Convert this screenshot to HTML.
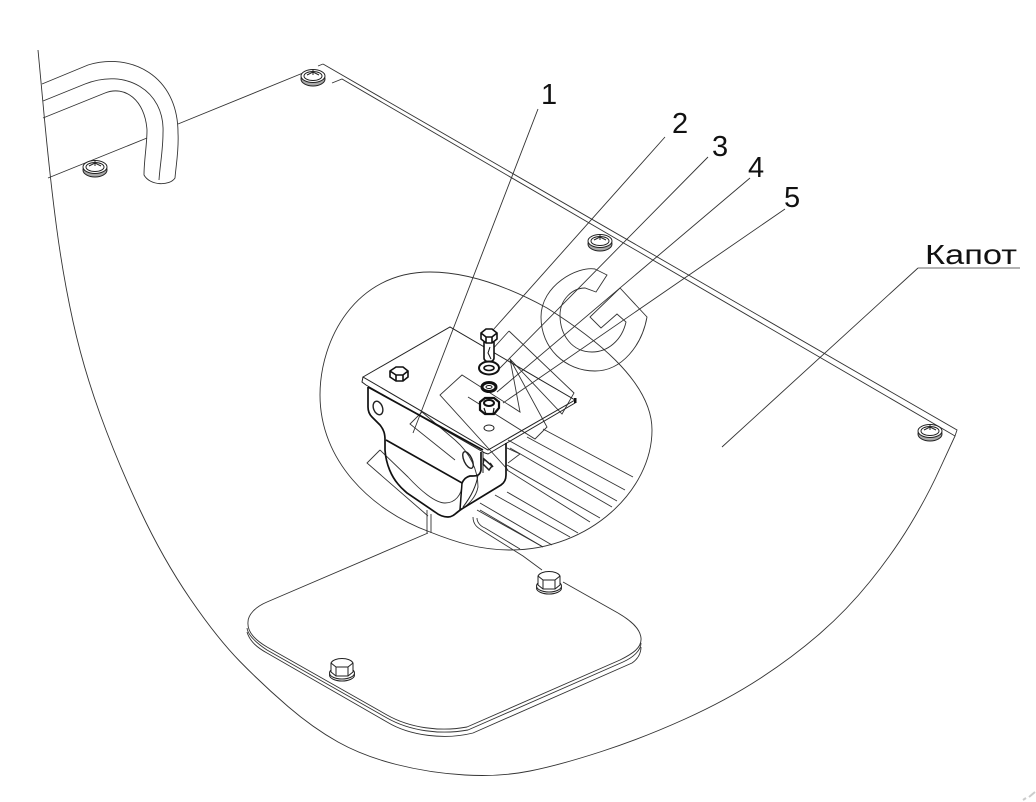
<!DOCTYPE html>
<html><head><meta charset="utf-8"><style>
html,body{margin:0;padding:0;background:#fff}
svg{display:block}
.t{font-family:"Liberation Sans",sans-serif;font-size:29px;fill:#111}
</style></head><body>
<svg width="1036" height="802" viewBox="0 0 1036 802" xmlns="http://www.w3.org/2000/svg">
<defs>
<g id="sc" fill="#fff" stroke="#222" stroke-width="1">
<ellipse cx="0" cy="3" rx="12" ry="7" fill="#aaa"/>
<ellipse cx="0" cy="0" rx="12" ry="6.5"/>
<ellipse cx="0" cy="0" rx="9" ry="4.5"/>
<path d="M-6,-1 L0,-4 L6,-1 M0,-6 V-1" fill="none"/>
</g>
<g id="bt" fill="#fff" stroke="#222" stroke-width="1">
<ellipse cx="0" cy="7" rx="12.5" ry="6"/>
<ellipse cx="0" cy="5" rx="12.5" ry="6"/>
<path d="M-11,-5 C-8,-11 8,-11 11,-5 V4 L6,8 H-6 L-11,4 Z"/>
<path d="M-11,-5 L-6,-1 H6 L11,-5 M-6,-1 V8 M6,-1 V8"/>
</g>
</defs>
<rect width="1036" height="802" fill="#fff"/>
<g fill="none" stroke="#333" stroke-width="0.9">
<!-- hood -->
<path d="M38,50 L44,114 Q50,178 56.5,227 Q63,276 73,321.5 Q83,367 100,414 Q117,461 140,510 Q163,559 190,598.5 Q217,638 240,661.5 Q263,685 288,706.5 Q313,728 338,742 Q363,756 396.5,764.5 Q430,773 465,775 Q500,777 530,771 Q560,765 601.5,751.5 Q643,738 685,719 Q727,700 760,678.5 Q793,657 820,633.5 Q847,610 870,581.5 Q893,553 910,525 Q927,497 940,468.5 L955,436"/>
<path d="M48,178 L147,138 M178,124 L303,73 M323,64 L957,430 L955,436 L342,79 L332,83"/>
<path d="M318,66 L323,64"/>
<!-- handle -->
<path d="M42,84 L88,65 C130,52 178,75 178,133 C179,150 176,165 175,178 C170,186 150,186 144,175 C144,160 147,145 147,130 C145,100 125,85 105,93 L43,118"/>
<path d="M43,101 L85,84 C125,68 165,90 163,133 C163,150 160,165 159,180"/>
<!-- blob -->
<path d="M430,532 C370,510 320,460 320,395 C320,340 355,272 430,272 C465,272 505,285 547,308 C590,335 652,380 652,430 C652,490 590,550 510,550 C480,550 455,542 430,532 Z"/>
<!-- ribs -->
<path d="M543,429 L633,477 M527,437 L625,490 M508,440 L617,501 M510,448 L612,507 M507,465 L600,518 M507,470 L590,522 M507,492 L578,533 M495,495 L570,537 M480,503 L552,545 M480,510 L543,547"/>
<path d="M477,510 L543,547 M473,517 C473,525 478,528 483,531 L523,556 L542,570 M477,518 C477,522 480,526 485,528 L520,549"/>
<path d="M563,582 L618,613"/>
<!-- watermark -->
<path d="M595,269 C578,266 541,285 541,317 C541,348 565,371 595,371 C622,371 642,345 647,317 L620,288 L590,317 L601,328 L617,314 L626,322 C622,340 608,352 592,352 C572,352 560,335 560,315 C560,300 572,288 585,288 L596,292 L607,275 Z"/>
<path d="M509,331 L490,352 M509,331 L574,393 L562,414 L510,359 L520,412 L462,375 L440,395 L508,470 M510,359 L547,427 L535,439 L468,397 M507,448 L520,454 L508,463"/>
<path d="M422,412 L410,424 L455,460 M422,412 L455,440 C470,453 478,470 478,487 C476,498 468,505 457,513 M380,450 L367,463 L428,516 M380,450 L408,477 C420,490 435,503 445,503 C455,503 462,495 462,484"/>
<!-- leaders -->
<path d="M538,109 L413,433 M665,137 L493,330 M708,157 L498,370 M750,178 L497,392 M785,209 L503,403"/>
<path d="M918,268 H1020" stroke="#666"/>
<path d="M918,268 L722,447"/>
<path d="M427,510 V533 M431,514 V533"/>
<!-- cover -->
<path d="M428,533 L267,602 C255,607 248,615 248,622 C247,632 255,640 267,647 L387,715 C410,728 440,732 467,727 L620,660 C632,654 642,648 641,638 C640,628 630,620 618,613"/>
<path d="M247,628 C248,636 258,644 267,650 L387,718 C410,731 440,735 468,730 L623,662 C634,657 641,650 641,643"/>
<path d="M247,632 C250,642 258,648 267,653 L387,722 C410,736 445,740 473,733 L632,663 C638,659 641,653 641,647"/>
</g>
<!-- plate + bracket -->
<g fill="none" stroke="#222" stroke-width="1">
<path d="M363,377 L450,327 L575,400 L488,450 Z"/>
<path d="M363,377 L362,382 L366,385 L485,453 L488,454 L575,403 L575,400"/>
</g>
<g fill="none" stroke="#111" stroke-width="1.7">
<path d="M368,387 L483,450"/>
<path d="M368,387 V407 C368,412 370,415 372,417 C376,421 378,423 380,425 C384,430 385,434 385,440 L385,450 C386,465 392,477 398,484 C402,489 405,491 407,493 L435,512 C440,516 445,517 448,517 C453,517 456,513 460,510 L501,485 C504,483 506,480 506,475 V443"/>
<path d="M386,440 L462,483 C464,479 466,477 470,476 C474,476 480,477 481,470 V452"/>
<path d="M462,483 L460,510" stroke-width="1.5"/>
</g>
<g fill="none" stroke="#222" stroke-width="1">
<path d="M483,452 V473 M478,475 C476,488 470,498 463,507"/>
<ellipse cx="378" cy="408" rx="4.5" ry="7" transform="rotate(-20 378 408)" stroke-width="1.4"/>
<ellipse cx="468" cy="460" rx="4" ry="9" transform="rotate(-25 468 460)" stroke-width="1.4"/>
<path d="M484,459 L492,466 L489,470 L483,464 Z M490,463 L493,467" stroke-width="1.5"/>
<ellipse cx="489" cy="428" rx="5" ry="3"/>
</g>
<!-- hardware -->
<g stroke="#111" fill="#fff" stroke-width="1.6">
<path d="M390,371 L396,367 H403 L408,371 V377 L403,381 H396 L390,377 Z M390,371 L396,375 H403 L408,371 M396,375 V381 M403,375 V381"/>
<path d="M484,342 V358 C484,363 494,363 494,358 V342"/>
<path d="M490,347 L488,353 L491,359" fill="none" stroke-width="1"/>
<path d="M481,333 L486,329 H492 L497,333 V339 L492,343 H486 L481,339 Z M481,333 L486,337 H492 L497,333 M486,337 V343 M492,337 V343"/>
<ellipse cx="489" cy="368" rx="10" ry="6.5" stroke-width="2"/>
<ellipse cx="489" cy="368" rx="5" ry="2.5" stroke-width="1.6"/>
<ellipse cx="489" cy="387" rx="7" ry="4.5" stroke-width="3"/>
<ellipse cx="489" cy="387" rx="3" ry="1.5" stroke-width="1"/>
<path d="M480,402 L485,398 H494 L499,402 V408 L494,414 H485 L480,410 Z" stroke-width="2.2"/>
<ellipse cx="489" cy="403" rx="5" ry="3" stroke-width="2"/>
<path d="M484,408 L486,414 M494,408 L493,414" fill="none" stroke-width="1.2"/>
</g>
<rect x="574" y="398" width="2.5" height="5" fill="#111"/>
<use href="#sc" x="313" y="76"/>
<use href="#sc" x="95" y="167"/>
<use href="#sc" x="600" y="241"/>
<use href="#sc" x="930" y="431"/>
<use href="#bt" x="342" y="668"/>
<use href="#bt" x="549" y="581"/>
<!-- labels -->
<text class="t" x="541" y="104">1</text>
<text class="t" x="672" y="133">2</text>
<text class="t" x="712" y="156">3</text>
<text class="t" x="748" y="177">4</text>
<text class="t" x="784" y="207">5</text>
<text class="t" x="925" y="264" textLength="92" lengthAdjust="spacingAndGlyphs" style="font-size:28px">Капот</text>
<path d="M1023,800 L1026,798 M1029,797 L1035,792" stroke="#ccc" stroke-width="2" fill="none"/>
</svg>
</body></html>
